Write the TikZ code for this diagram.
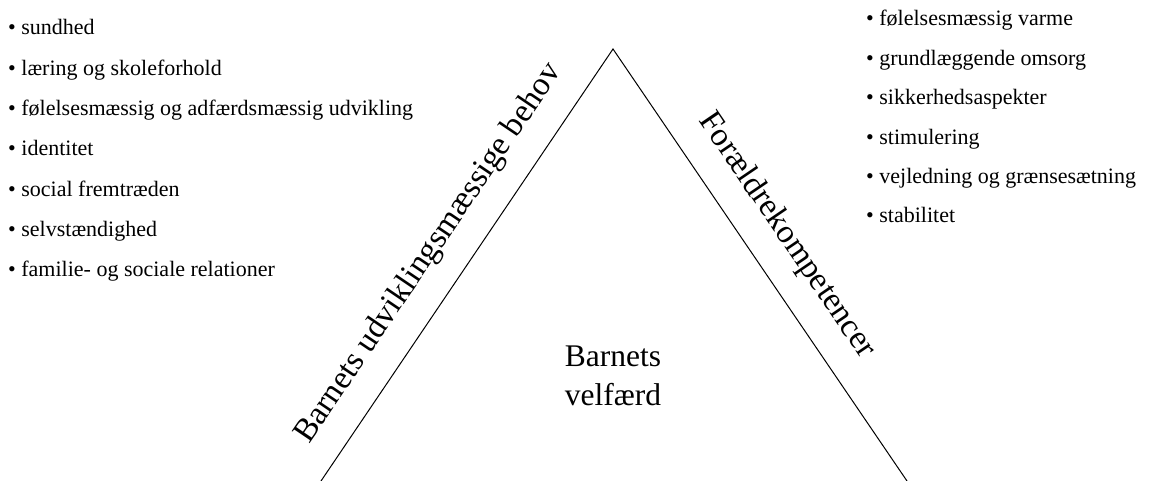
\documentclass[tikz,border=0pt]{standalone}
\usepackage{fontspec}
\setmainfont{Liberation Serif}
\begin{document}
\begin{tikzpicture}[x=1pt,y=-1pt,
  item/.style={anchor=base west, inner sep=0pt, font=\fontsize{22}{26}\selectfont},
  side/.style={anchor=base, inner sep=0pt, font=\fontsize{33}{40}\selectfont},
  centre/.style={anchor=base, inner sep=0pt, font=\fontsize{31.5}{38}\selectfont},
  edge/.style={line width=1pt, line join=miter}]
\useasboundingbox (0,0) rectangle (1152,481);

% the triangle
\coordinate (top) at (613,49);
\coordinate (bl) at (321,481);
\coordinate (br) at (907,481);
\draw[edge] (bl) -- (top) -- (br);

% labels along the two sides
\node[side, rotate=55.88] (needs) at (435.5,258) {Barnets udviklingsmæssige behov};
\node[side, rotate=-55.7] (parents) at (780,240) {Forældrekompetencer};

% centre text
\node[centre] (welfareA) at (613,366) {Barnets};
\node[centre] (welfareB) at (613,405) {velfærd};

% left list
\node[item] (l1) at (8,35)    {• sundhed};
\node[item] (l2) at (8,75.3)  {• læring og skoleforhold};
\node[item] (l3) at (8,115.6) {• følelsesmæssig og adfærdsmæssig udvikling};
\node[item] (l4) at (8,155.9) {• identitet};
\node[item] (l5) at (8,196.2) {• social fremtræden};
\node[item] (l6) at (8,236.5) {• selvstændighed};
\node[item] (l7) at (8,276.8) {• familie- og sociale relationer};

% right list
\node[item] (r1) at (866,26)  {• følelsesmæssig varme};
\node[item] (r2) at (866,65.4)  {• grundlæggende omsorg};
\node[item] (r3) at (866,104.8) {• sikkerhedsaspekter};
\node[item] (r4) at (866,144.2) {• stimulering};
\node[item] (r5) at (866,183.6) {• vejledning og grænsesætning};
\node[item] (r6) at (866,223) {• stabilitet};
\end{tikzpicture}
\end{document}
